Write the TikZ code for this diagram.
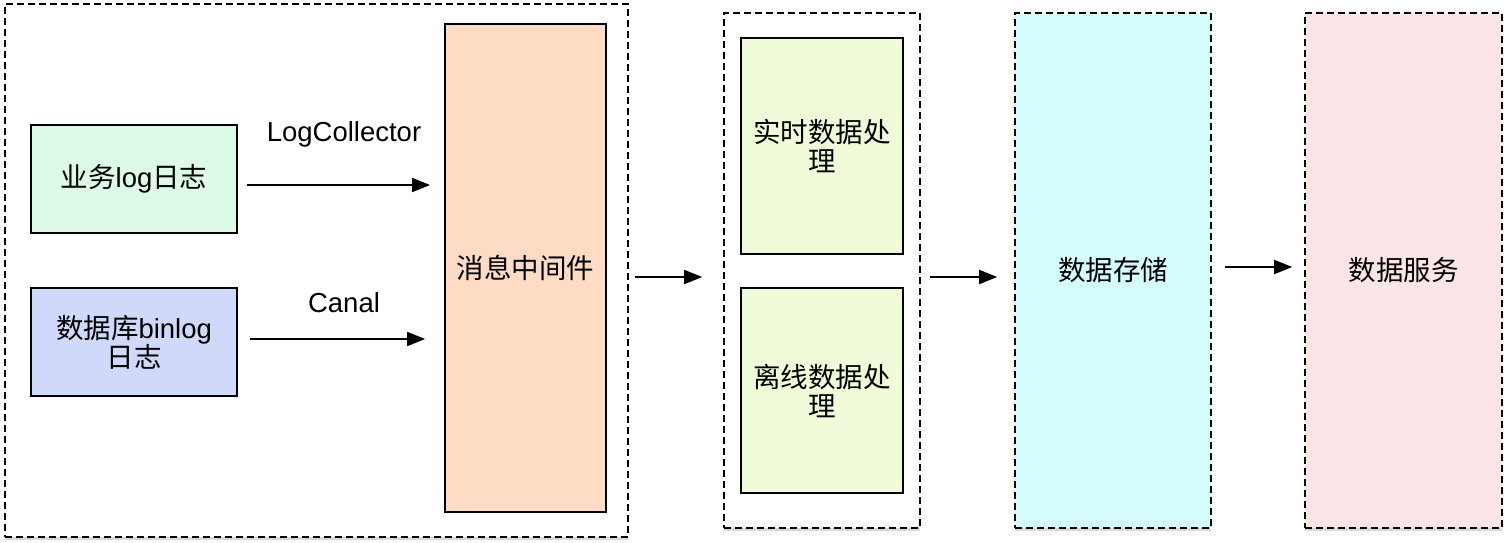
\documentclass[tikz,border=0pt]{standalone}
\usepackage{fontspec}
\setmainfont{Liberation Sans}
\newfontfamily\cjk{Noto Sans CJK SC}
\usetikzlibrary{arrows.meta,shadows}
\definecolor{bizgreen}{HTML}{DCFAE6}
\definecolor{binblue}{HTML}{D0D9F9}
\definecolor{mqpeach}{HTML}{FDDBC5}
\definecolor{proclime}{HTML}{EFFAD9}
\definecolor{storecyan}{HTML}{D4FCFC}
\definecolor{servepink}{HTML}{FCE5E6}

\begin{document}
\begin{tikzpicture}[x=1pt,y=-1pt]
	\tikzset{every node/.style={font=\fontsize{27.5}{29}\selectfont,align=center,inner sep=0pt}}
	\tikzset{solidbox/.style={draw,line width=1.8pt}}
	\tikzset{dashbox/.style={draw,fill=white,line width=1.6pt,dash pattern=on 7pt off 4pt,drop shadow={shadow xshift=0pt,shadow yshift=-2.5pt,opacity=0.3}}}
	\tikzset{flow/.style={-{Triangle[length=18pt,width=14pt]},line width=1.8pt}}
	\useasboundingbox (0,0) rectangle (1508,542);
	% collection stage
	\node[dashbox,minimum width=623,minimum height=533] (ingest) at (316.5,270.5) {};
	\node[solidbox,fill=bizgreen,minimum width=206,minimum height=108] (biz) at (134,179) {{\cjk 业务}log{\cjk 日志}};
	\node[solidbox,fill=binblue,minimum width=206,minimum height=108] (binlog) at (134,342) {{\cjk 数据库}binlog\\{\cjk 日志}};
	\node[solidbox,fill=mqpeach,minimum width=161,minimum height=488] (mq) at (525.5,268) {\cjk 消息中间件};
	\node (lc) at (344,134) {LogCollector};
	\node (canal) at (344,303) {Canal};
	% processing stage
	\node[dashbox,minimum width=196,minimum height=515] (proc) at (822,270.5) {};
	\node[solidbox,fill=proclime,minimum width=162,minimum height=216] (rt) at (822,146) {\cjk 实时数据处\\\cjk 理};
	\node[solidbox,fill=proclime,minimum width=162,minimum height=205] (off) at (822,390.5) {\cjk 离线数据处\\\cjk 理};
	% storage and service
	\node[dashbox,fill=storecyan,minimum width=196,minimum height=515] (store) at (1113,270.5) {\cjk 数据存储};
	\node[dashbox,fill=servepink,minimum width=197,minimum height=515] (serve) at (1403.5,270.5) {\cjk 数据服务};
	% connectors
	\draw[flow] ([xshift=9pt,yshift=-6pt]biz.east) -- ([xshift=-14pt,yshift=-6pt]biz.east -| mq.west);
	\draw[flow] ([xshift=12pt,yshift=3pt]binlog.east) -- ([xshift=-19pt,yshift=3pt]binlog.east -| mq.west);
	\draw[flow] ([xshift=6pt,yshift=-6.5pt]ingest.east) -- ([xshift=-21pt,yshift=-6.5pt]proc.west);
	\draw[flow] ([xshift=9pt,yshift=-6.5pt]proc.east) -- ([xshift=-17pt,yshift=-6.5pt]store.west);
	\draw[flow] ([xshift=13pt,yshift=3.5pt]store.east) -- ([xshift=-12pt,yshift=3.5pt]serve.west);
\end{tikzpicture}
\end{document}
